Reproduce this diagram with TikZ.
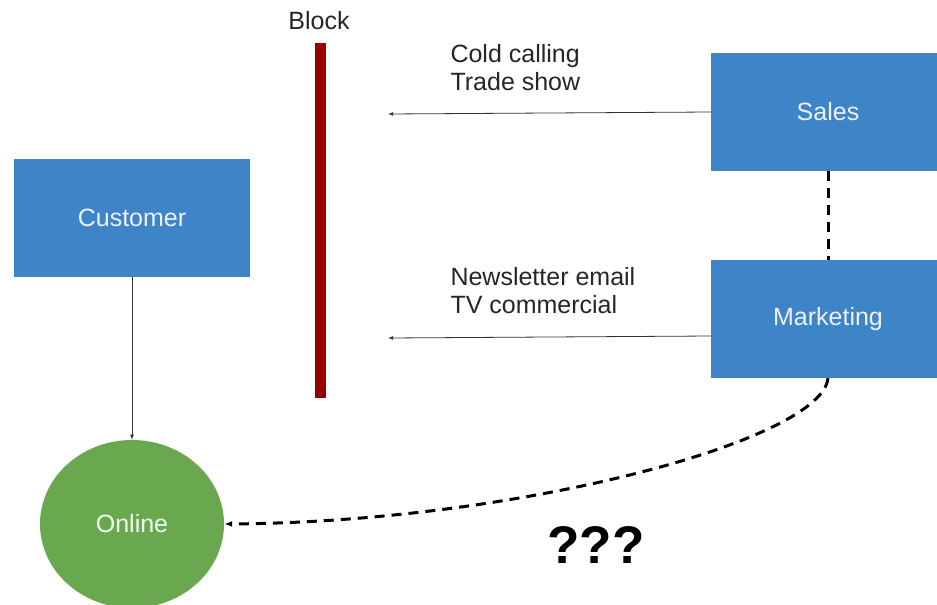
\documentclass[tikz,border=0pt]{standalone}
\usepackage{fontspec}
\setmainfont{Liberation Sans}
\usetikzlibrary{shapes.geometric,arrows.meta}
\definecolor{boxblue}{HTML}{3D85C6}
\definecolor{onlinegreen}{HTML}{6AA84F}
\definecolor{blockred}{HTML}{990000}
\begin{document}
\begin{tikzpicture}[x=1pt, y=-1pt, >=latex,
		box/.style={fill=boxblue, text=white!94!blue, font=\fontsize{25}{30}\selectfont,
			minimum width=234pt, minimum height=118pt, inner sep=0pt},
		note/.style={anchor=base west, align=left, text=black!85,
			font=\fontsize{25}{28}\selectfont},
		link/.style={line width=3pt, dash pattern=on 10pt off 7pt}]
	\useasboundingbox (0,0) rectangle (937,605);
	% blocks
	\node[box] (sales) at (828,112) {Sales};
	\node[box] (marketing) at (828,319) {Marketing};
	\node[box, minimum width=236pt] (customer) at (132,218) {Customer};
	\node[ellipse, fill=onlinegreen, text=white!94!green, font=\fontsize{25}{30}\selectfont,
		minimum width=184pt, minimum height=168pt, inner sep=0pt] (online) at (132,524) {Online};
	% the wall
	\fill[blockred] (315,43) rectangle (326,398);
	\node[anchor=base, font=\fontsize{25}{30}\selectfont, text=black!85] (block) at (319,29) {Block};
	% channels
	\coordinate (salesend) at (388,114);
	\coordinate (marketingend) at (388,338);
	\draw[->, line width=0.8pt, black!80] (sales.west) -- (salesend);
	\draw[->, line width=0.8pt, black!80] ([yshift=-17pt]marketing.west) -- (marketingend);
	\node[note] (salesnote) at (447,90) {Cold calling\\Trade show};
	\node[note] (marketingnote) at (447,313) {Newsletter email\\TV commercial};
	\draw[->, line width=0.8pt, black!80] (customer.south) -- (online.north);
	\draw[link] (sales.south) -- (marketing.north);
	\draw[link, -{Latex[length=8pt,width=6pt]}] (marketing.south) .. controls (822,440) and (520,522) .. (online.east);
	\node[font=\bfseries\fontsize{53}{58}\selectfont] (unknown) at (596,545) {???};
\end{tikzpicture}
\end{document}
